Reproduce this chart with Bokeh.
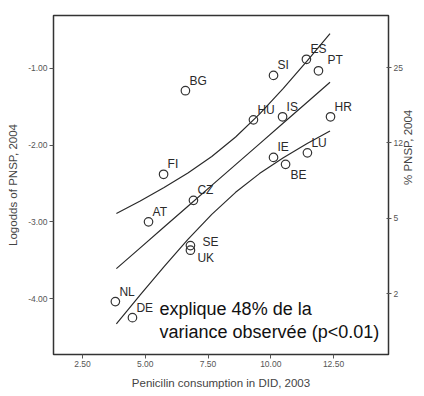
import math
from bokeh.plotting import figure
from bokeh.models import ColumnDataSource, FixedTicker, NumeralTickFormatter, LinearAxis, Label
from bokeh.embed import file_html
from bokeh.resources import INLINE
from bokeh.core.properties import value

# ---- data ----
countries = ["BG", "FI", "CZ", "AT", "NL", "DE", "SE", "UK", "SI",
             "ES", "PT", "HU", "IS", "HR", "IE", "LU", "BE"]
penicillin_did = [6.60, 5.73, 6.92, 5.13, 3.81, 4.49, 6.80, 6.80, 10.11,
                  11.42, 11.90, 9.31, 10.47, 12.38, 10.11, 11.46, 10.59]
logodds_pnsp = [-1.29, -2.38, -2.72, -3.00, -4.04, -4.25, -3.31, -3.37, -1.09,
                -0.88, -1.03, -1.67, -1.63, -1.63, -2.16, -2.10, -2.25]

fit_x = [3.85, 4.80, 5.75, 6.70, 7.65, 8.60, 9.55, 10.50, 11.45, 12.36]
fit_mid = [-3.610, -3.339, -3.068, -2.796, -2.525, -2.254, -1.983, -1.711, -1.440, -1.180]
fit_upper = [-2.890, -2.727, -2.553, -2.363, -2.148, -1.893, -1.595, -1.259, -0.902, -0.546]
fit_lower = [-4.330, -3.951, -3.583, -3.229, -2.902, -2.615, -2.371, -2.163, -1.978, -1.814]

x_ticks = [2.5, 5.0, 7.5, 10.0, 12.5]
y_ticks = [-1.0, -2.0, -3.0, -4.0]
pct_tick_pos = [-0.99, -1.97, -2.95, -3.94]
pct_tick_labels = ["25", "12", "5", "2"]

note_lines = ["explique 48% de la", "variance observée (p<0.01)"]

# ---- label placement (style) ----
special_offsets = {"SE": (12, -4), "UK": (7, 8), "BE": (5, 11), "PT": (9, -11)}
x_off = [special_offsets.get(c, (4, -10))[0] for c in countries]
y_off = [special_offsets.get(c, (4, -10))[1] for c in countries]

FONT = "Liberation Sans"
INK = "#2a2a2a"
GREY = "#555555"

p = figure(width=424, height=396, x_range=(1.345, 14.69), y_range=(-4.73, -0.309),
           output_backend="svg", toolbar_location=None,
           min_border_left=53, min_border_right=36, min_border_top=15, min_border_bottom=42)
p.background_fill_color = "white"
p.border_fill_color = "white"
p.grid.visible = False
p.outline_line_color = "#333333"
p.outline_line_width = 1.5

# bands and fit
p.line(fit_x, fit_upper, line_color=INK, line_width=1.2)
p.line(fit_x, fit_mid, line_color=INK, line_width=1.2)
p.line(fit_x, fit_lower, line_color=INK, line_width=1.2)

src = ColumnDataSource(dict(x=penicillin_did, y=logodds_pnsp, name=countries, xo=x_off, yo=y_off))
p.scatter("x", "y", source=src, marker="circle", size=8.5, fill_color=None,
          line_color="#333333", line_width=1.2)
p.text("x", "y", text="name", source=src, x_offset="xo", y_offset="yo",
       text_font=value(FONT), text_font_size="12px", text_color=INK,
       text_align="left", text_baseline="middle")

# note
for ly, line in zip([-4.143, -4.443], note_lines):
    p.add_layout(Label(x=5.57, y=ly, text=line, text_font=FONT, text_font_size="18px",
                       text_color="#111111", text_baseline="middle", text_align="left"))

# axes
for ax in (p.xaxis[0], p.yaxis[0]):
    ax.axis_line_color = "#333333"
    ax.major_tick_line_color = "#555555"
    ax.major_tick_out = 4
    ax.major_tick_in = 0
    ax.minor_tick_line_color = None
    ax.major_label_text_font = FONT
    ax.major_label_text_font_size = "8.5px"
    ax.major_label_text_color = GREY
    ax.axis_label_text_font = FONT
    ax.axis_label_text_font_size = "11.5px"
    ax.axis_label_text_font_style = "normal"
    ax.axis_label_text_color = "#444444"
    ax.major_label_standoff = 2

p.xaxis[0].ticker = FixedTicker(ticks=x_ticks)
p.xaxis[0].formatter = NumeralTickFormatter(format="0.00")
p.xaxis[0].axis_label = "Penicilin consumption in DID, 2003"
p.xaxis[0].axis_label_standoff = 7

p.yaxis[0].ticker = FixedTicker(ticks=y_ticks)
p.yaxis[0].formatter = NumeralTickFormatter(format="0.00")
p.yaxis[0].axis_label = "Logodds of PNSP, 2004"
p.yaxis[0].axis_label_standoff = 6

right = LinearAxis(ticker=FixedTicker(ticks=pct_tick_pos),
                   major_label_overrides={v: t for v, t in zip(pct_tick_pos, pct_tick_labels)})
right.axis_line_color = "#333333"
right.major_tick_line_color = "#555555"
right.major_tick_out = 3
right.major_tick_in = 2
right.minor_tick_line_color = None
right.major_label_text_font = FONT
right.major_label_text_font_size = "8.5px"
right.major_label_text_color = GREY
right.major_label_standoff = 2
right.axis_label = "% PNSP, 2004"
right.axis_label_orientation = math.pi / 2
right.axis_label_standoff = 2
right.axis_label_text_font = FONT
right.axis_label_text_font_size = "11.5px"
right.axis_label_text_font_style = "normal"
right.axis_label_text_color = "#444444"
p.add_layout(right, "right")

open("out.html", "w").write(file_html(p, INLINE))
